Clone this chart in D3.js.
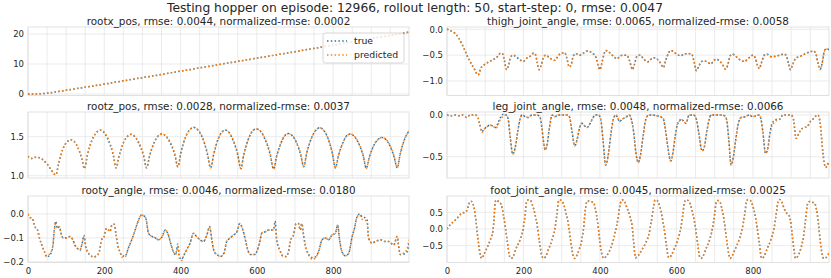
<!DOCTYPE html>
<html><head><meta charset="utf-8">
<script src="https://cdn.jsdelivr.net/npm/d3@7"></script>
<style>
body{margin:0;background:#fff;}
svg text{font-family:"DejaVu Sans",sans-serif;fill:#262626;}
</style></head>
<body><svg id="chart" width="831" height="278"></svg>
<script>
// ---------------- DATA ----------------
const mainTitle = "Testing hopper on episode: 12966, rollout length: 50, start-step: 0, rmse: 0.0047";
const panelTitles = [
  "rootx_pos, rmse: 0.0044, normalized-rmse: 0.0002",
  "thigh_joint_angle, rmse: 0.0065, normalized-rmse: 0.0058",
  "rootz_pos, rmse: 0.0028, normalized-rmse: 0.0037",
  "leg_joint_angle, rmse: 0.0048, normalized-rmse: 0.0066",
  "rooty_angle, rmse: 0.0046, normalized-rmse: 0.0180",
  "foot_joint_angle, rmse: 0.0045, normalized-rmse: 0.0025"
];
const seriesNames = ["true", "predicted"];
const xTickLabels = [0, 200, 400, 600, 800];
const xGridSteps = [0,50,100,150,200,250,300,350,400,450,500,550,600,650,700,750,800,850,900,950];
const yTicksRootx = [0, 10, 20];
const yTicksThigh = [0.0, -0.5, -1.0];
const yTicksRootz = [1.0, 1.5];
const yTicksLeg = [0.0, -0.5];
const yTicksRooty = [0.0, -0.1, -0.2];
const yTicksFoot = [0.5, 0.0, -0.5];

// rootx_pos
const stepsRootx = [0,20,40,60,80,100,125,150,200,250,300,350,400,450,500,550,600,650,700,750,800,850,900,950,999];
const trueRootx = [0,0.02,0.15,0.45,0.85,1.25,1.75,2.25,3.3,4.38,5.45,6.52,7.6,8.7,9.8,10.88,11.95,13.02,14.1,15.2,16.3,17.38,18.45,19.52,20.6];
const predRootx = [0,0.02,0.15,0.45,0.85,1.25,1.75,2.25,3.3,4.38,5.45,6.52,7.6,8.7,9.8,10.88,11.95,13.02,14.1,15.2,16.3,17.38,18.45,19.52,20.62];

// thigh_joint_angle
const stepsThigh = [0,10,21,30,38,45,52,60,67,74,80,84,88,95,105,117,125,133,140,145,150,156,160,166,172,182,192,200,210,218,227,232,236,241,246,252,258,268,282,290,297,308,313,320,325,330,337,347,357,367,380,390,396,400,405,410,415,425,435,445,452,460,470,478,485,490,497,505,515,524,533,541,550,558,566,572,580,586,595,605,612,620,630,640,646,652,658,667,677,690,698,705,715,722,728,734,740,746,758,768,778,790,800,806,812,817,822,830,836,848,860,870,880,887,893,898,903,912,925,935,948,958,965,970,976,981,986,991,999];
const trueThigh = [0,-0.03,-0.08,-0.16,-0.27,-0.38,-0.5,-0.62,-0.71,-0.8,-0.88,-0.86,-0.76,-0.7,-0.65,-0.6,-0.57,-0.52,-0.46,-0.47,-0.6,-0.78,-0.72,-0.55,-0.5,-0.54,-0.6,-0.62,-0.55,-0.52,-0.46,-0.5,-0.65,-0.78,-0.7,-0.55,-0.5,-0.55,-0.6,-0.52,-0.47,-0.45,-0.55,-0.73,-0.68,-0.52,-0.47,-0.5,-0.46,-0.42,-0.46,-0.55,-0.72,-0.78,-0.65,-0.5,-0.41,-0.45,-0.52,-0.57,-0.52,-0.5,-0.5,-0.62,-0.78,-0.68,-0.52,-0.5,-0.58,-0.63,-0.58,-0.55,-0.58,-0.65,-0.74,-0.6,-0.45,-0.41,-0.45,-0.5,-0.51,-0.48,-0.47,-0.48,-0.62,-0.8,-0.72,-0.62,-0.62,-0.67,-0.6,-0.58,-0.63,-0.7,-0.77,-0.7,-0.52,-0.48,-0.54,-0.6,-0.62,-0.55,-0.5,-0.55,-0.7,-0.76,-0.65,-0.5,-0.48,-0.53,-0.52,-0.5,-0.48,-0.5,-0.66,-0.78,-0.7,-0.56,-0.52,-0.48,-0.44,-0.42,-0.48,-0.65,-0.77,-0.66,-0.45,-0.38,-0.39];
const predThigh = [0,-0.03,-0.08,-0.16,-0.27,-0.38,-0.5,-0.62,-0.71,-0.8,-0.88,-0.87,-0.76,-0.7,-0.65,-0.6,-0.57,-0.52,-0.46,-0.47,-0.6,-0.78,-0.73,-0.55,-0.5,-0.53,-0.59,-0.62,-0.55,-0.52,-0.46,-0.5,-0.65,-0.78,-0.71,-0.55,-0.5,-0.55,-0.6,-0.52,-0.47,-0.45,-0.55,-0.73,-0.69,-0.52,-0.47,-0.5,-0.46,-0.42,-0.46,-0.55,-0.72,-0.78,-0.66,-0.5,-0.41,-0.45,-0.52,-0.57,-0.52,-0.5,-0.5,-0.62,-0.78,-0.69,-0.52,-0.5,-0.58,-0.63,-0.58,-0.55,-0.58,-0.65,-0.74,-0.61,-0.45,-0.41,-0.45,-0.5,-0.51,-0.48,-0.47,-0.48,-0.62,-0.8,-0.72,-0.62,-0.62,-0.67,-0.6,-0.58,-0.63,-0.7,-0.77,-0.7,-0.52,-0.48,-0.54,-0.6,-0.62,-0.55,-0.5,-0.55,-0.7,-0.76,-0.66,-0.5,-0.48,-0.53,-0.52,-0.5,-0.48,-0.5,-0.66,-0.78,-0.7,-0.56,-0.52,-0.48,-0.44,-0.42,-0.48,-0.65,-0.78,-0.66,-0.45,-0.38,-0.39];

// rootz_pos
const stepsRootz = [0,8,20,30,40,50,60,73,81,92,102,112,121,130,141,148,156,168,179,189,199,210,223,231,239,250,260,270,280,290,303,311,319,331,341,351,361,372,385,393,401,413,424,434,445,457,470,479,487,498,508,517,527,537,550,558,566,578,588,598,610,621,635,644,652,664,673,683,693,703,715,723,731,744,755,765,775,786,798,806,814,826,835,845,855,866,879,887,895,907,918,928,938,948,960,968,976,988,999];
const trueRootz = [1.25,1.22,1.235,1.23,1.2,1.15,1.08,1.01,1.17,1.35,1.43,1.46,1.44,1.37,1.22,1.09,1.27,1.46,1.55,1.585,1.555,1.46,1.275,1.10,1.255,1.42,1.50,1.53,1.50,1.42,1.255,1.10,1.257,1.426,1.508,1.535,1.509,1.43,1.266,1.115,1.297,1.494,1.588,1.62,1.588,1.49,1.287,1.10,1.275,1.464,1.555,1.585,1.554,1.461,1.268,1.09,1.274,1.472,1.568,1.60,1.568,1.471,1.27,1.085,1.249,1.426,1.512,1.54,1.513,1.434,1.268,1.115,1.295,1.49,1.584,1.615,1.583,1.486,1.285,1.10,1.257,1.426,1.508,1.535,1.508,1.425,1.253,1.095,1.237,1.391,1.465,1.49,1.466,1.392,1.24,1.10,1.28,1.475,1.575];
const predRootz = [1.25,1.22,1.235,1.23,1.2,1.15,1.08,1.01,1.17,1.35,1.43,1.46,1.44,1.37,1.22,1.09,1.27,1.46,1.55,1.585,1.56,1.475,1.29,1.10,1.255,1.42,1.50,1.53,1.505,1.435,1.27,1.10,1.257,1.426,1.508,1.535,1.512,1.44,1.28,1.115,1.297,1.494,1.588,1.62,1.59,1.50,1.30,1.10,1.275,1.464,1.555,1.585,1.556,1.47,1.28,1.09,1.274,1.472,1.568,1.60,1.57,1.48,1.285,1.085,1.249,1.426,1.512,1.54,1.515,1.44,1.28,1.115,1.295,1.49,1.584,1.615,1.585,1.49,1.295,1.10,1.257,1.426,1.508,1.535,1.51,1.43,1.262,1.095,1.237,1.391,1.465,1.49,1.468,1.40,1.25,1.10,1.28,1.475,1.575];

// leg_joint_angle
const stepsLeg = [0,10,20,30,40,52,60,73,80,85,91,97,105,113,122,128,133,140,148,155,160,165,172,178,185,191,196,205,212,222,235,243,248,252,257,262,268,275,282,290,300,313,320,327,334,340,347,353,360,366,372,380,388,396,402,408,415,421,428,435,441,446,451,458,467,476,482,488,494,500,506,513,520,528,538,548,558,566,572,578,585,591,597,602,607,612,618,625,633,645,652,658,667,673,680,686,690,705,718,726,731,737,743,749,755,762,769,780,790,800,815,820,826,833,839,845,851,857,863,870,878,890,900,906,913,920,927,935,942,950,957,965,970,976,983,990,995,999];
const trueLeg = [0,-0.01,0,-0.01,0,-0.03,0,0,-0.02,-0.1,-0.2,-0.17,-0.14,-0.12,-0.14,-0.15,-0.1,-0.03,0.01,0,-0.05,-0.25,-0.47,-0.4,-0.2,-0.05,0,-0.02,-0.03,0,0,-0.02,-0.15,-0.3,-0.42,-0.35,-0.15,0,-0.02,0,0,0,-0.02,-0.2,-0.37,-0.3,-0.15,-0.1,-0.13,-0.15,-0.12,-0.05,0,0,-0.05,-0.3,-0.6,-0.5,-0.25,-0.05,0,-0.03,-0.08,-0.05,-0.03,0,-0.05,-0.2,-0.45,-0.57,-0.48,-0.25,-0.05,0,0,-0.01,-0.02,-0.05,-0.2,-0.4,-0.55,-0.45,-0.25,-0.12,-0.08,-0.05,-0.07,-0.1,0,0,-0.05,-0.2,-0.43,-0.38,-0.18,-0.05,0,0,0,-0.01,-0.05,-0.3,-0.6,-0.5,-0.3,-0.1,-0.03,-0.02,0,-0.02,0,-0.03,-0.2,-0.46,-0.4,-0.2,-0.09,-0.07,-0.05,-0.05,0,0,0,-0.05,-0.28,-0.22,-0.17,-0.15,-0.14,-0.08,-0.05,-0.01,0,-0.1,-0.45,-0.63,-0.6,-0.55];
const predLeg = [0,-0.01,0,-0.01,0,-0.03,0,0,-0.02,-0.1,-0.21,-0.17,-0.14,-0.12,-0.14,-0.16,-0.12,-0.05,-0.01,0,-0.05,-0.25,-0.47,-0.4,-0.2,-0.05,0,-0.02,-0.03,0,0,-0.02,-0.15,-0.3,-0.42,-0.35,-0.15,0,-0.02,0,0,0,-0.02,-0.2,-0.37,-0.3,-0.15,-0.1,-0.13,-0.15,-0.12,-0.05,0,0,-0.05,-0.3,-0.6,-0.5,-0.25,-0.05,0,-0.03,-0.08,-0.05,-0.03,0,-0.05,-0.2,-0.45,-0.57,-0.48,-0.25,-0.05,0,0,-0.01,-0.02,-0.05,-0.2,-0.4,-0.55,-0.45,-0.25,-0.12,-0.08,-0.05,-0.07,-0.1,0,0,-0.05,-0.2,-0.43,-0.38,-0.18,-0.05,0,0,0,-0.01,-0.05,-0.3,-0.6,-0.5,-0.3,-0.1,-0.03,-0.02,0,-0.02,0,-0.03,-0.2,-0.46,-0.4,-0.22,-0.11,-0.09,-0.06,-0.05,0,0,0,-0.05,-0.28,-0.22,-0.17,-0.15,-0.14,-0.08,-0.05,-0.01,0,-0.1,-0.45,-0.63,-0.61,-0.56];

// rooty_angle
const stepsRooty = [0,5,11,18,25,30,36,43,49,58,65,69,73,77,82,88,92,101,110,117,123,129,136,141,147,151,156,163,171,180,187,193,199,206,211,215,220,226,231,237,241,246,255,263,272,281,290,298,304,309,316,325,334,342,351,360,368,374,381,387,393,397,403,408,416,425,434,442,451,460,469,476,482,488,496,504,514,521,530,539,548,555,562,570,576,584,595,600,607,613,622,631,640,644,648,652,660,668,677,683,689,696,703,709,714,718,723,727,736,745,753,762,771,780,788,797,806,812,817,823,832,841,850,856,863,870,876,883,889,893,902,911,924,937,946,959,968,972,976,985,993,999];
const trueRooty = [0,-0.014,-0.018,-0.053,-0.067,-0.1,-0.13,-0.157,-0.18,-0.17,-0.136,-0.067,-0.03,-0.06,-0.053,-0.088,-0.1,-0.1,-0.094,-0.106,-0.13,-0.143,-0.152,-0.13,-0.09,-0.136,-0.16,-0.172,-0.18,-0.175,-0.157,-0.108,-0.097,-0.06,-0.067,-0.074,-0.046,-0.043,-0.088,-0.143,-0.157,-0.175,-0.176,-0.143,-0.108,-0.067,-0.025,-0.004,-0.008,-0.018,-0.08,-0.094,-0.1,-0.108,-0.097,-0.067,-0.088,-0.122,-0.157,-0.17,-0.125,-0.18,-0.19,-0.175,-0.15,-0.122,-0.08,-0.094,-0.108,-0.115,-0.088,-0.053,-0.108,-0.157,-0.17,-0.178,-0.164,-0.115,-0.1,-0.088,-0.074,-0.04,-0.06,-0.108,-0.15,-0.17,-0.17,-0.157,-0.122,-0.08,-0.074,-0.067,-0.067,-0.065,-0.03,-0.108,-0.15,-0.175,-0.178,-0.157,-0.108,-0.088,-0.04,-0.04,-0.067,-0.04,-0.094,-0.13,-0.17,-0.182,-0.18,-0.157,-0.108,-0.1,-0.108,-0.088,-0.08,-0.046,-0.108,-0.157,-0.175,-0.164,-0.094,-0.06,-0.011,0.0,-0.012,-0.015,-0.025,-0.1,-0.122,-0.115,-0.108,-0.115,-0.115,-0.13,-0.094,-0.136,-0.17,-0.168,-0.16,-0.125];
const predRooty = [0,-0.014,-0.018,-0.053,-0.067,-0.1,-0.13,-0.157,-0.175,-0.164,-0.136,-0.067,-0.035,-0.06,-0.053,-0.088,-0.1,-0.1,-0.094,-0.106,-0.13,-0.143,-0.15,-0.13,-0.094,-0.136,-0.157,-0.17,-0.18,-0.175,-0.157,-0.108,-0.097,-0.06,-0.067,-0.074,-0.046,-0.043,-0.088,-0.143,-0.157,-0.18,-0.178,-0.143,-0.108,-0.067,-0.025,-0.004,-0.008,-0.018,-0.08,-0.094,-0.1,-0.108,-0.097,-0.067,-0.088,-0.122,-0.157,-0.17,-0.136,-0.185,-0.195,-0.175,-0.15,-0.122,-0.08,-0.094,-0.108,-0.115,-0.088,-0.053,-0.108,-0.157,-0.17,-0.178,-0.164,-0.115,-0.1,-0.088,-0.074,-0.04,-0.06,-0.108,-0.15,-0.17,-0.17,-0.157,-0.122,-0.08,-0.074,-0.067,-0.067,-0.065,-0.053,-0.108,-0.15,-0.175,-0.178,-0.157,-0.108,-0.088,-0.04,-0.04,-0.067,-0.04,-0.094,-0.13,-0.17,-0.19,-0.185,-0.157,-0.108,-0.1,-0.108,-0.088,-0.08,-0.046,-0.108,-0.157,-0.175,-0.164,-0.094,-0.06,-0.011,-0.004,-0.022,-0.025,-0.032,-0.1,-0.122,-0.115,-0.108,-0.115,-0.115,-0.13,-0.094,-0.136,-0.17,-0.164,-0.15,-0.108];

// foot_joint_angle
const stepsFoot = [0,8,15,22,30,38,46,52,56,60,65,69,74,80,86,91,97,104,113,120,123,126,129,135,142,147,152,158,164,168,174,180,190,199,204,208,212,218,224,230,236,242,248,253,259,265,274,282,287,291,294,300,306,312,318,324,330,334,340,346,353,358,362,367,375,383,388,394,400,406,410,416,423,432,440,447,453,458,463,470,478,484,489,493,500,508,518,527,534,540,544,550,556,562,568,574,578,581,587,594,603,611,617,621,625,631,637,643,649,655,660,664,670,677,686,694,700,704,708,713,718,724,730,736,740,746,753,762,771,778,783,787,793,799,805,811,817,821,824,830,837,846,855,861,866,870,876,882,888,894,900,906,912,918,925,932,938,943,948,955,961,966,971,976,981,985,992,999];
const trueFoot = [0,0.12,0.2,0.27,0.37,0.47,0.5,0.55,0.7,0.82,0.82,0.72,0.4,-0.2,-0.7,-0.88,-0.75,-0.58,-0.33,-0.05,0.3,0.8,0.87,0.82,0.72,0.45,0.1,-0.4,-0.83,-0.88,-0.8,-0.6,-0.35,0,0.4,0.8,0.87,0.86,0.7,0.45,0.1,-0.4,-0.8,-0.88,-0.8,-0.62,-0.35,0,0.4,0.8,0.87,0.85,0.7,0.45,0.1,-0.4,-0.8,-0.88,-0.78,-0.6,-0.3,0.1,0.6,0.84,0.82,0.8,0.6,0.2,-0.4,-0.8,-0.88,-0.82,-0.7,-0.45,-0.1,0.3,0.75,0.87,0.85,0.65,0.4,0.1,-0.5,-0.86,-0.8,-0.65,-0.45,-0.2,0.2,0.65,0.87,0.85,0.7,0.4,0,-0.5,-0.8,-0.86,-0.78,-0.6,-0.35,0,0.45,0.8,0.87,0.85,0.72,0.45,0.1,-0.4,-0.8,-0.88,-0.8,-0.6,-0.35,0,0.45,0.8,0.85,0.83,0.65,0.3,-0.2,-0.7,-0.88,-0.8,-0.62,-0.38,-0.05,0.4,0.8,0.88,0.86,0.72,0.45,0.05,-0.45,-0.8,-0.88,-0.8,-0.6,-0.35,0,0.45,0.82,0.88,0.8,0.6,0.48,0.42,0.1,-0.5,-0.88,-0.8,-0.6,-0.25,0.3,0.75,0.82,0.8,0.78,0.6,0.2,-0.35,-0.75,-0.88,-0.85,-0.72];
const predFoot = [0,0.12,0.2,0.27,0.37,0.47,0.5,0.55,0.7,0.82,0.82,0.72,0.4,-0.2,-0.7,-0.88,-0.75,-0.58,-0.33,-0.05,0.3,0.8,0.87,0.82,0.72,0.45,0.1,-0.4,-0.83,-0.88,-0.8,-0.6,-0.35,0,0.4,0.8,0.87,0.86,0.7,0.45,0.1,-0.4,-0.8,-0.88,-0.8,-0.62,-0.35,0,0.4,0.8,0.87,0.85,0.7,0.45,0.1,-0.4,-0.8,-0.88,-0.78,-0.6,-0.3,0.1,0.6,0.84,0.82,0.8,0.6,0.2,-0.4,-0.8,-0.88,-0.82,-0.7,-0.45,-0.1,0.3,0.75,0.87,0.85,0.65,0.4,0.1,-0.5,-0.86,-0.8,-0.65,-0.45,-0.2,0.2,0.65,0.87,0.85,0.7,0.4,0,-0.5,-0.8,-0.86,-0.78,-0.6,-0.35,0,0.45,0.8,0.87,0.85,0.72,0.45,0.1,-0.4,-0.8,-0.88,-0.8,-0.6,-0.35,0,0.45,0.8,0.85,0.83,0.65,0.3,-0.2,-0.7,-0.88,-0.8,-0.62,-0.38,-0.05,0.4,0.8,0.88,0.86,0.72,0.45,0.05,-0.45,-0.8,-0.88,-0.8,-0.6,-0.35,0,0.45,0.82,0.88,0.8,0.6,0.48,0.42,0.1,-0.5,-0.88,-0.8,-0.6,-0.25,0.3,0.75,0.82,0.8,0.78,0.6,0.2,-0.35,-0.75,-0.88,-0.85,-0.72];

// ---------------- LAYOUT ----------------
const colX = [[28, 409], [447, 829]];
const rowY = [[27, 95.5], [112, 178], [196, 262.5]];
const panels = [
  {col:0,row:0,steps:stepsRootx,t:trueRootx,p:predRootx,dom:[-0.5,22.33],ticks:yTicksRootx,fmt:d3.format("d"),legend:true},
  {col:1,row:0,steps:stepsThigh,t:trueThigh,p:predThigh,dom:[-1.28,0.044],ticks:yTicksThigh,fmt:d3.format(".1f")},
  {col:0,row:1,steps:stepsRootz,t:trueRootz,p:predRootz,dom:[0.97,1.817],ticks:yTicksRootz,fmt:d3.format(".1f")},
  {col:1,row:1,steps:stepsLeg,t:trueLeg,p:predLeg,dom:[-0.755,0.036],ticks:yTicksLeg,fmt:d3.format(".1f")},
  {col:0,row:2,steps:stepsRooty,t:trueRooty,p:predRooty,dom:[-0.203,0.0755],ticks:yTicksRooty,fmt:d3.format(".1f"),xlabels:true},
  {col:1,row:2,steps:stepsFoot,t:trueFoot,p:predFoot,dom:[-1.003,0.988],ticks:yTicksFoot,fmt:d3.format(".1f"),xlabels:true}
];
const colors = ["#1f77b4", "#ff7f0e"];
const gridColor = "#e6e6e6", spineColor = "#d9d9d9";
const minus = s => s.replace("-", "\u2212");

const svg = d3.select("#chart");
svg.append("text").attr("x", 415).attr("y", 12).attr("text-anchor", "middle")
  .style("font-size", "12.3px").text(mainTitle);

panels.forEach((P, i) => {
  const [x0, x1] = colX[P.col], [y0, y1] = rowY[P.row];
  const x = d3.scaleLinear().domain([0, 999]).range([x0, x1]);
  const y = d3.scaleLinear().domain(P.dom).range([y1, y0]);
  const g = svg.append("g");
  g.selectAll(".vg").data(xGridSteps).join("line")
    .attr("x1", d => x(d)).attr("x2", d => x(d)).attr("y1", y0).attr("y2", y1)
    .attr("stroke", gridColor).attr("stroke-width", 0.8);
  g.selectAll(".hg").data(P.ticks).join("line")
    .attr("x1", x0).attr("x2", x1).attr("y1", d => y(d)).attr("y2", d => y(d))
    .attr("stroke", gridColor).attr("stroke-width", 0.8);
  const ya = d3.axisLeft(y).tickValues(P.ticks).tickSize(0).tickPadding(4).tickFormat(d => minus(P.fmt(d)));
  const yg = g.append("g").attr("transform", `translate(${x0},0)`).call(ya);
  yg.select(".domain").remove();
  yg.selectAll("text").style("font-size", "8.5px").style("font-family", "DejaVu Sans").attr("fill", "#262626");
  if (P.xlabels) {
    const xa = d3.axisBottom(x).tickValues(xTickLabels).tickSize(0).tickPadding(5).tickFormat(d3.format("d"));
    const xg = g.append("g").attr("transform", `translate(0,${y1})`).call(xa);
    xg.select(".domain").remove();
    xg.selectAll("text").style("font-size", "8.5px").style("font-family", "DejaVu Sans").attr("fill", "#262626");
  }
  g.append("rect").attr("x", x0).attr("y", y0).attr("width", x1 - x0).attr("height", y1 - y0)
    .attr("fill", "none").attr("stroke", spineColor).attr("stroke-width", 0.8);
  g.append("text").attr("x", (x0 + x1) / 2).attr("y", y0 - 2.5).attr("text-anchor", "middle")
    .style("font-size", "10.4px").text(panelTitles[i]);
  const clipId = "clip" + i;
  svg.append("clipPath").attr("id", clipId).append("rect")
    .attr("x", x0).attr("y", y0 - 2).attr("width", x1 - x0).attr("height", y1 - y0 + 4);
  const line = vals => d3.line().x((d, k) => x(P.steps[k])).y(d => y(d)).curve(d3.curveMonotoneX)(vals);
  [P.t, P.p].forEach((vals, k) => {
    g.append("path").attr("d", line(vals)).attr("fill", "none")
      .attr("stroke", colors[k]).attr("stroke-width", 1.5)
      .attr("stroke-dasharray", "1.5,2.3").attr("clip-path", `url(#${clipId})`);
  });
  if (P.legend) {
    const lg = g.append("g");
    lg.append("rect").attr("x", 323).attr("y", 33).attr("width", 81).attr("height", 30).attr("rx", 2.5)
      .attr("fill", "#fff").attr("fill-opacity", 0.8).attr("stroke", "#cccccc").attr("stroke-width", 0.8);
    seriesNames.forEach((nm, k) => {
      const yy = 41 + k * 14;
      lg.append("line").attr("x1", 327).attr("x2", 347).attr("y1", yy).attr("y2", yy)
        .attr("stroke", colors[k]).attr("stroke-width", 1.5).attr("stroke-dasharray", "1.5,2.3");
      lg.append("text").attr("x", 354).attr("y", yy + 3.3).style("font-size", "9.3px").text(nm);
    });
  }
});
</script></body></html>
